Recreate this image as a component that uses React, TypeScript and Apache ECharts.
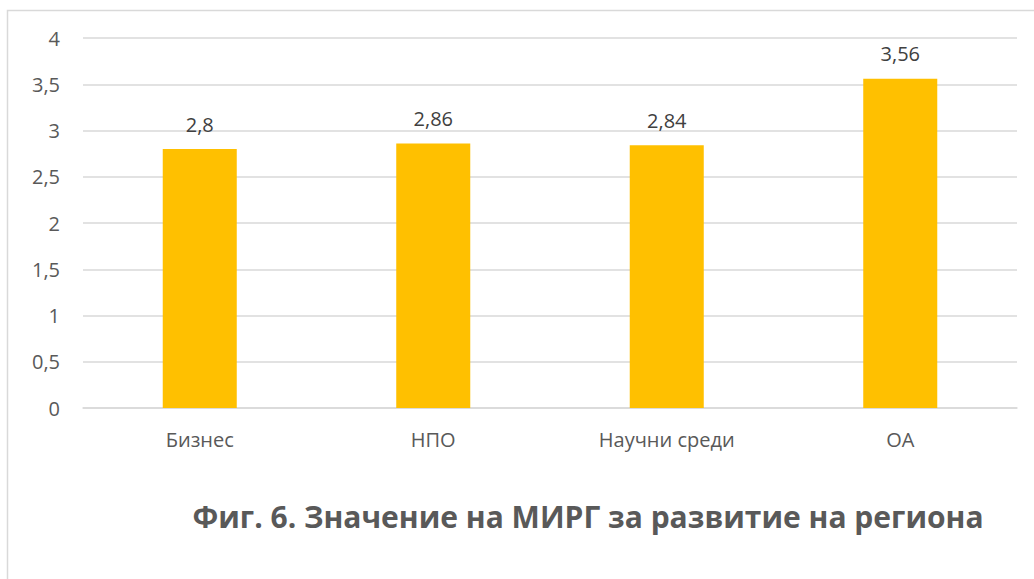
import React, { useEffect, useRef } from "react";
import * as echarts from "echarts";

const categories = ["Бизнес", "НПО", "Научни среди", "ОА"];
const values = [2.8, 2.86, 2.84, 3.56];
const title = "Фиг. 6. Значение на МИРГ за развитие на региона";

const fmt = (v: number) => String(v).replace(".", ",");

export default function App() {
  const ref = useRef<HTMLDivElement>(null);
  useEffect(() => {
    if (!ref.current) return;
    const chart = echarts.init(ref.current, null, { renderer: "svg" });
    chart.setOption({
      animation: false,
      backgroundColor: "#ffffff",
      textStyle: { fontFamily: "Open Sans" },
      graphic: [
        {
          type: "rect",
          shape: { x: 7.5, y: 10.5, width: 1100, height: 700 },
          style: { fill: "none", stroke: "#d9d9d9", lineWidth: 1.5 },
          silent: true,
        },
        {
          type: "text",
          x: 588,
          y: 516,
          style: {
            text: title,
            fill: "#595959",
            font: "bold 30px 'Open Sans'",
            textAlign: "center",
            textVerticalAlign: "middle",
          },
        },
      ],
      grid: { left: 83, right: 17, top: 38, bottom: 171 },
      xAxis: {
        type: "category",
        data: categories,
        axisLine: { lineStyle: { color: "#d9d9d9", width: 1.5 } },
        axisTick: { show: false },
        axisLabel: { color: "#595959", fontSize: 20, margin: 21 },
      },
      yAxis: {
        type: "value",
        min: 0,
        max: 4,
        interval: 0.5,
        axisLine: { show: false },
        axisTick: { show: false },
        splitLine: { lineStyle: { color: "#d9d9d9", width: 1.5 } },
        axisLabel: {
          color: "#595959",
          fontSize: 20,
          margin: 23,
          formatter: (v: number) => fmt(v),
        },
      },
      series: [
        {
          type: "bar",
          data: values,
          barWidth: "31.7%",
          itemStyle: { color: "#ffc000" },
          label: {
            show: true,
            position: "top",
            distance: 15,
            color: "#404040",
            fontSize: 20,
            formatter: (p: any) => fmt(p.value),
          },
        },
      ],
    });
    return () => chart.dispose();
  }, []);
  return (
    <div
      ref={ref}
      style={{ position: "absolute", left: 0, top: 0, width: 1034, height: 579 }}
    />
  );
}
